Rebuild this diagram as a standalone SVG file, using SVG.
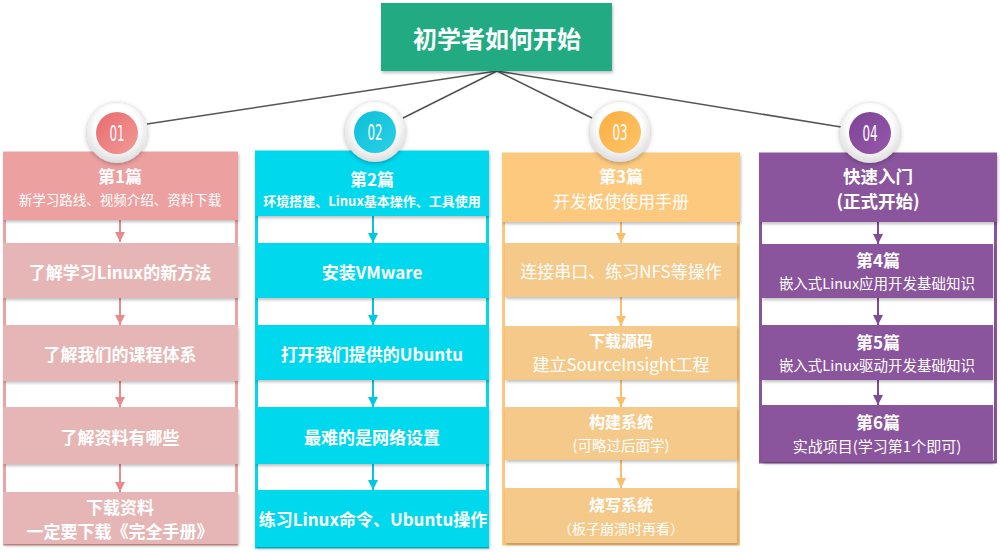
<svg xmlns="http://www.w3.org/2000/svg" width="1000" height="552" viewBox="0 0 1000 552">
<defs>
<style>
text{font-family:"Noto Sans CJK SC","Noto Sans",sans-serif;fill:#fff;text-anchor:middle}
.b{font-weight:bold}
.num{font-family:"DejaVu Sans Condensed","Liberation Sans Narrow",sans-serif;font-size:22px}
.conn{stroke:#555;stroke-width:1.6;fill:none}
.sh{filter:url(#ds)}
</style>
<filter id="ds" x="-10%" y="-20%" width="120%" height="150%">
<feDropShadow dx="1" dy="2" stdDeviation="1.8" flood-color="#000" flood-opacity="0.25"/>
</filter>
<filter id="cs" x="-30%" y="-30%" width="160%" height="160%">
<feDropShadow dx="0" dy="1" stdDeviation="2.5" flood-color="#000" flood-opacity="0.3"/>
</filter>
<radialGradient id="ring" cx="50%" cy="40%" r="60%">
<stop offset="0.6" stop-color="#ffffff"/>
<stop offset="1" stop-color="#dcdcdc"/>
</radialGradient>
<linearGradient id="g1" x1="0" y1="0" x2="1" y2="1"><stop offset="0" stop-color="#E86A70"/><stop offset="1" stop-color="#F29A96"/></linearGradient>
<linearGradient id="g2" x1="0" y1="0" x2="1" y2="1"><stop offset="0" stop-color="#0CC0D8"/><stop offset="1" stop-color="#2AD0E6"/></linearGradient>
<linearGradient id="g3" x1="0" y1="0" x2="1" y2="1"><stop offset="0" stop-color="#FDAE3F"/><stop offset="1" stop-color="#FDC56A"/></linearGradient>
<linearGradient id="g4" x1="0" y1="0" x2="1" y2="1"><stop offset="0" stop-color="#7E4496"/><stop offset="1" stop-color="#9558AA"/></linearGradient>
<marker id="a1" viewBox="0 0 10 10" refX="10" refY="5" markerWidth="10" markerHeight="10" markerUnits="userSpaceOnUse" orient="auto"><path d="M0,0 L10,5 L0,10 z" fill="#E98A8C"/></marker>
<marker id="a2" viewBox="0 0 10 10" refX="10" refY="5" markerWidth="10" markerHeight="10" markerUnits="userSpaceOnUse" orient="auto"><path d="M0,0 L10,5 L0,10 z" fill="#00C8E2"/></marker>
<marker id="a3" viewBox="0 0 10 10" refX="10" refY="5" markerWidth="10" markerHeight="10" markerUnits="userSpaceOnUse" orient="auto"><path d="M0,0 L10,5 L0,10 z" fill="#FBBE6A"/></marker>
<marker id="a4" viewBox="0 0 10 10" refX="10" refY="5" markerWidth="10" markerHeight="10" markerUnits="userSpaceOnUse" orient="auto"><path d="M0,0 L10,5 L0,10 z" fill="#834A98"/></marker>
</defs>
<rect width="1000" height="552" fill="#fff"/>

<g id="connectors">
<line class="conn" x1="497" y1="71" x2="147" y2="124"/>
<line class="conn" x1="497" y1="71" x2="403" y2="118"/>
<line class="conn" x1="497" y1="71" x2="592" y2="118"/>
<line class="conn" x1="497" y1="71" x2="841" y2="127"/>
</g>

<g id="title">
<rect class="sh" x="381" y="3" width="231" height="68" fill="#22AB82"/>
<text class="b" x="497" y="48" font-size="24">初学者如何开始</text>
</g>

<!-- Column 1 -->
<g id="col1">
<rect x="4.5" y="153" width="232" height="391" fill="#fff" stroke="#EDA3A3" stroke-width="3"/>
<g stroke="#E98A8C" stroke-width="2" marker-end="url(#a1)">
<line x1="120" y1="220" x2="120" y2="242"/>
<line x1="120" y1="298" x2="120" y2="325"/>
<line x1="120" y1="381" x2="120" y2="407"/>
<line x1="120" y1="464" x2="120" y2="492"/>
</g>
<g id="c1-header"><rect class="sh" x="3" y="152" width="235" height="68" fill="#EDA0A0"/>
<text class="b" x="120" y="183" font-size="17">第1篇</text>
<text x="120" y="205" font-size="13.5">新学习路线、视频介绍、资料下载</text></g>
<g id="c1-n1"><rect class="sh" x="3" y="243" width="235" height="55" fill="#E6B6B6"/>
<text class="b" x="120" y="279" font-size="17">了解学习Linux的新方法</text></g>
<g id="c1-n2"><rect class="sh" x="3" y="325" width="235" height="56" fill="#E6B6B6"/>
<text class="b" x="120" y="361" font-size="17">了解我们的课程体系</text></g>
<g id="c1-n3"><rect class="sh" x="3" y="407" width="235" height="57" fill="#E6B6B6"/>
<text class="b" x="120" y="444" font-size="17">了解资料有哪些</text></g>
<g id="c1-n4"><rect class="sh" x="3" y="492" width="235" height="52" fill="#E6B6B6"/>
<text class="b" x="120" y="514" font-size="17">下载资料</text>
<text class="b" x="120" y="538" font-size="17">一定要下载《完全手册》</text></g>
</g>

<!-- Column 2 -->
<g id="col2">
<rect x="256.5" y="152" width="231" height="395" fill="#fff" stroke="#00D8EE" stroke-width="3"/>
<g stroke="#00C8E2" stroke-width="2" marker-end="url(#a2)">
<line x1="373" y1="216" x2="373" y2="243"/>
<line x1="373" y1="298" x2="373" y2="325"/>
<line x1="373" y1="380" x2="373" y2="407"/>
<line x1="373" y1="464" x2="373" y2="490"/>
</g>
<g id="c2-header"><rect class="sh" x="255" y="151" width="234" height="65" fill="#00D8EE"/>
<text class="b" x="372" y="186" font-size="17">第2篇</text>
<text class="b" x="372" y="206" font-size="13">环境搭建、Linux基本操作、工具使用</text></g>
<g id="c2-n1"><rect class="sh" x="255" y="243" width="234" height="55" fill="#00D8EE"/>
<text class="b" x="372" y="279" font-size="17">安装VMware</text></g>
<g id="c2-n2"><rect class="sh" x="255" y="325" width="234" height="55" fill="#00D8EE"/>
<text class="b" x="372" y="361" font-size="17">打开我们提供的Ubuntu</text></g>
<g id="c2-n3"><rect class="sh" x="255" y="407" width="234" height="57" fill="#00D8EE"/>
<text class="b" x="372" y="444" font-size="17">最难的是网络设置</text></g>
<g id="c2-n4"><rect class="sh" x="255" y="490" width="234" height="57" fill="#00D8EE"/>
<text class="b" x="373" y="526" font-size="17">练习Linux命令、Ubuntu操作</text></g>
</g>

<!-- Column 3 -->
<g id="col3">
<rect x="503.5" y="154" width="235" height="390" fill="#fff" stroke="#FCC77E" stroke-width="3"/>
<g stroke="#FBBE6A" stroke-width="2" marker-end="url(#a3)">
<line x1="621" y1="222" x2="621" y2="243"/>
<line x1="621" y1="297" x2="621" y2="326"/>
<line x1="621" y1="380" x2="621" y2="407"/>
<line x1="621" y1="460" x2="621" y2="488"/>
</g>
<g id="c3-header"><rect class="sh" x="502" y="153" width="238" height="69" fill="#FCC97F"/>
<text class="b" x="621" y="183" font-size="17">第3篇</text>
<text x="621" y="208" font-size="17">开发板使使用手册</text></g>
<g id="c3-n1"><rect class="sh" x="505" y="243" width="232" height="54" fill="#F5C98A"/>
<text x="621" y="278" font-size="17">连接串口、练习NFS等操作</text></g>
<g id="c3-n2"><rect class="sh" x="505" y="326" width="232" height="54" fill="#F5C98A"/>
<text class="b" x="621" y="347" font-size="16">下载源码</text>
<text x="621" y="371" font-size="17">建立SourceInsight工程</text></g>
<g id="c3-n3"><rect class="sh" x="505" y="407" width="232" height="53" fill="#F5C98A"/>
<text class="b" x="621" y="428" font-size="16">构建系统</text>
<text x="621" y="451" font-size="14.5">(可略过后面学)</text></g>
<g id="c3-n4"><rect class="sh" x="505" y="488" width="232" height="55" fill="#F5C98A"/>
<text class="b" x="621" y="511" font-size="16">烧写系统</text>
<text x="621" y="534" font-size="14">（板子崩溃时再看）</text></g>
</g>

<!-- Column 4 -->
<g id="col4">
<rect x="760.5" y="154" width="235" height="308" fill="#fff" stroke="#8A549C" stroke-width="3"/>
<g stroke="#834A98" stroke-width="2" marker-end="url(#a4)">
<line x1="878" y1="222" x2="878" y2="244"/>
<line x1="878" y1="298" x2="878" y2="325"/>
<line x1="878" y1="380" x2="878" y2="405"/>
</g>
<g id="c4-header"><rect class="sh" x="759" y="153" width="238" height="69" fill="#8A549C"/>
<text class="b" x="878" y="183" font-size="17.5">快速入门</text>
<text class="b" x="878" y="208" font-size="17.5">(正式开始)</text></g>
<g id="c4-n1"><rect class="sh" x="762" y="244" width="231" height="54" fill="#8A549C"/>
<text class="b" x="878" y="267" font-size="17">第4篇</text>
<text x="877" y="289" font-size="14.5">嵌入式Linux应用开发基础知识</text></g>
<g id="c4-n2"><rect class="sh" x="762" y="325" width="231" height="55" fill="#8A549C"/>
<text class="b" x="878" y="349" font-size="17">第5篇</text>
<text x="877" y="371" font-size="14.5">嵌入式Linux驱动开发基础知识</text></g>
<g id="c4-n3"><rect class="sh" x="762" y="405" width="231" height="57" fill="#8A549C"/>
<text class="b" x="878" y="429" font-size="17">第6篇</text>
<text x="877" y="452" font-size="15">实战项目(学习第1个即可)</text></g>
</g>

<!-- Circles -->
<g id="circle1">
<circle cx="117" cy="133" r="30" fill="url(#ring)" filter="url(#cs)"/>
<circle cx="117" cy="133" r="21" fill="url(#g1)"/>
<text class="num" transform="translate(117 141) scale(0.6 1)">01</text>
</g>
<g id="circle2">
<circle cx="375" cy="132" r="30" fill="url(#ring)" filter="url(#cs)"/>
<circle cx="375" cy="132" r="21" fill="url(#g2)"/>
<text class="num" transform="translate(375 140) scale(0.6 1)">02</text>
</g>
<g id="circle3">
<circle cx="620" cy="132" r="30" fill="url(#ring)" filter="url(#cs)"/>
<circle cx="620" cy="132" r="21" fill="url(#g3)"/>
<text class="num" transform="translate(620 140) scale(0.6 1)">03</text>
</g>
<g id="circle4">
<circle cx="870" cy="133" r="30" fill="url(#ring)" filter="url(#cs)"/>
<circle cx="870" cy="133" r="21" fill="url(#g4)"/>
<text class="num" transform="translate(870 141) scale(0.6 1)">04</text>
</g>
</svg>
